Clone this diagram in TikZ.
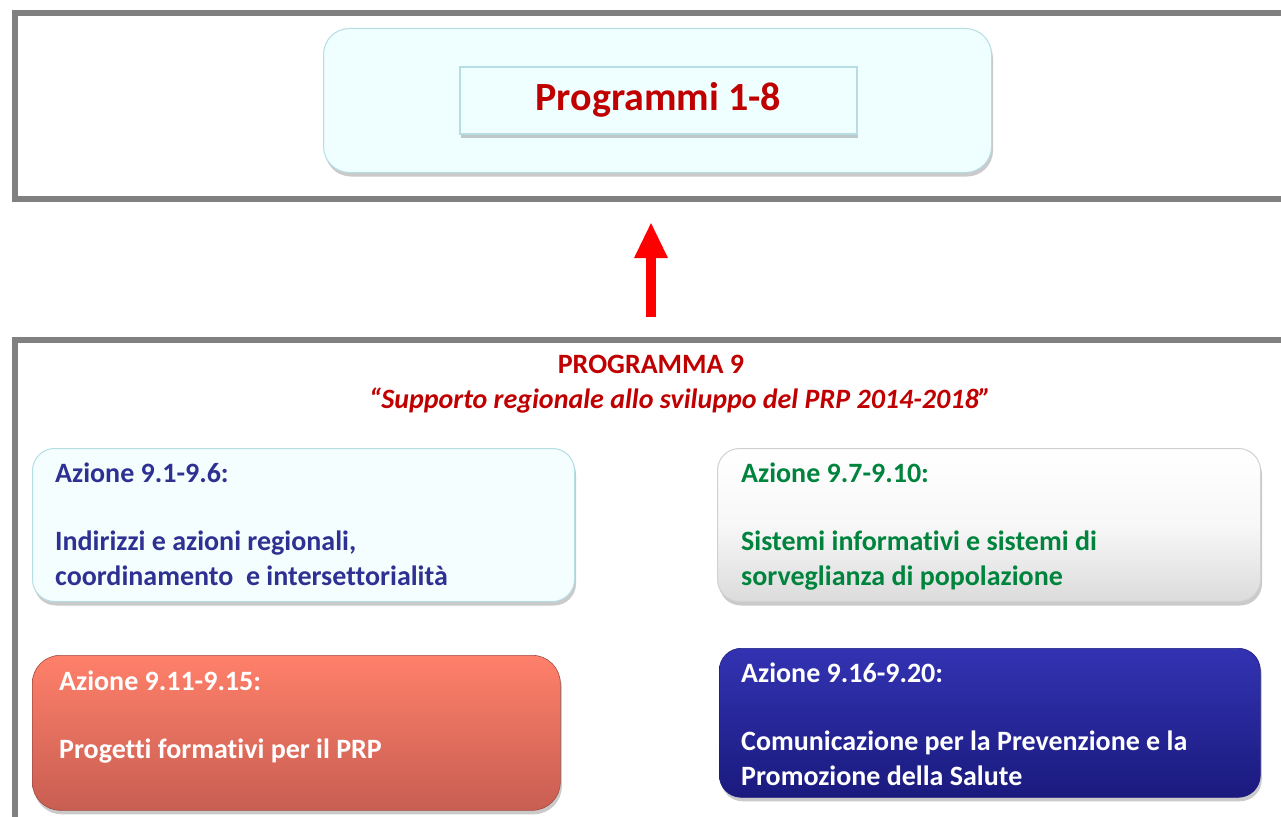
\documentclass[tikz,border=0pt]{standalone}
\usepackage{fontspec}
\setmainfont[Ligatures=NoCommon]{Carlito}
\usetikzlibrary{shadows,arrows.meta}
\definecolor{frameg}{HTML}{808080}
\definecolor{darkred}{HTML}{C00000}
\definecolor{lcyan}{HTML}{EFFEFE}
\definecolor{cyanb}{HTML}{B5DDE2}
\definecolor{navytxt}{HTML}{2E3192}
\definecolor{greentxt}{HTML}{00843D}
\definecolor{salmtop}{HTML}{FF806A}
\definecolor{salmbot}{HTML}{C85E52}
\definecolor{bluetop}{HTML}{3333B3}
\definecolor{bluebot}{HTML}{1A1A7E}
\tikzset{
  frame/.style={draw=frameg, line width=6pt},
  shad/.style={drop shadow={shadow xshift=1.5pt, shadow yshift=-4pt, opacity=0.35, fill=black!60}},
  boxbase/.style={shad, rounded corners=22pt, inner sep=0pt, anchor=north west},
  boxtxt/.style={anchor=base west, inner sep=0pt, font=\bfseries\fontsize{28}{35}\selectfont, align=left},
  redarrow/.style={draw=red, line width=10pt, -{Triangle[width=31pt,length=36pt]}}
}
\begin{document}
\begin{tikzpicture}[x=1pt,y=-1pt]
\useasboundingbox (0,0) rectangle (1281,816);
% top frame
\draw[frame] (1295,13) -- (15,13) -- (15,199) -- (1295,199);
% bottom frame
\draw[frame] (1295,340) -- (15,340) -- (15,830);

% top box
\node[boxbase, fill=lcyan, draw=cyanb, line width=1pt, rounded corners=26pt,
      minimum width=668pt, minimum height=144pt] (top) at (323,28) {};
\node[shad, anchor=north west, fill=lcyan, draw=cyanb, line width=1.5pt, inner sep=0pt,
      minimum width=397pt, minimum height=67pt] (inner) at (459,66) {};
\node[text=darkred, font=\bfseries\fontsize{40}{48}\selectfont, inner sep=0pt] (title) at (inner.center) {Programmi 1-8};

% arrow
\coordinate (arrS) at (651,317);
\coordinate (arrE) at (651,222);
\draw[redarrow] (arrS) -- (arrE);

% programma 9 heading
\node[text=darkred, font=\bfseries\fontsize{28}{35}\selectfont, anchor=base, inner sep=0pt] (p9) at (651,373) {PROGRAMMA 9};
\node[text=darkred, font=\bfseries\itshape\fontsize{28}{35}\selectfont, anchor=base, inner sep=0pt] (p9sub) at (680,408) {“Supporto regionale allo sviluppo del PRP 2014-2018”};

% box 1
\node[boxbase, fill=lcyan!70!white, draw=cyanb, line width=1pt,
      minimum width=542pt, minimum height=153pt] (b1) at (32,448) {};
\node[boxtxt, text=navytxt] (b1h) at (55,482) {Azione 9.1-9.6:};
\node[boxtxt, text=navytxt] (b1t) at (55,585) {Indirizzi e azioni regionali,\\coordinamento\ \ e intersettorialità};

% box 2
\node[boxbase, top color=white, bottom color=black!14, middle color=white!97!black, draw=black!18, line width=1pt,
      minimum width=543pt, minimum height=153pt] (b2) at (717,448) {};
\node[boxtxt, text=greentxt] (b2h) at (741,482) {Azione 9.7-9.10:};
\node[boxtxt, text=greentxt] (b2t) at (741,585) {Sistemi informativi e sistemi di\\sorveglianza di popolazione};

% box 3
\node[boxbase, top color=salmtop, bottom color=salmbot, draw=salmbot!80!black, line width=0.6pt, rounded corners=28pt,
      minimum width=528pt, minimum height=155pt] (b3) at (32,655) {};
\node[boxtxt, text=white] (b3h) at (59,690) {Azione 9.11-9.15:};
\node[boxtxt, text=white] (b3t) at (59,758) {Progetti formativi per il PRP};

% box 4
\node[boxbase, top color=bluetop, bottom color=bluebot, draw=bluebot, line width=0.6pt,
      minimum width=541pt, minimum height=149pt] (b4) at (719,648) {};
\node[boxtxt, text=white] (b4h) at (741,682) {Azione 9.16-9.20:};
\node[boxtxt, text=white] (b4t) at (741,785) {Comunicazione per la Prevenzione e la\\Promozione della Salute};
\end{tikzpicture}
\end{document}
